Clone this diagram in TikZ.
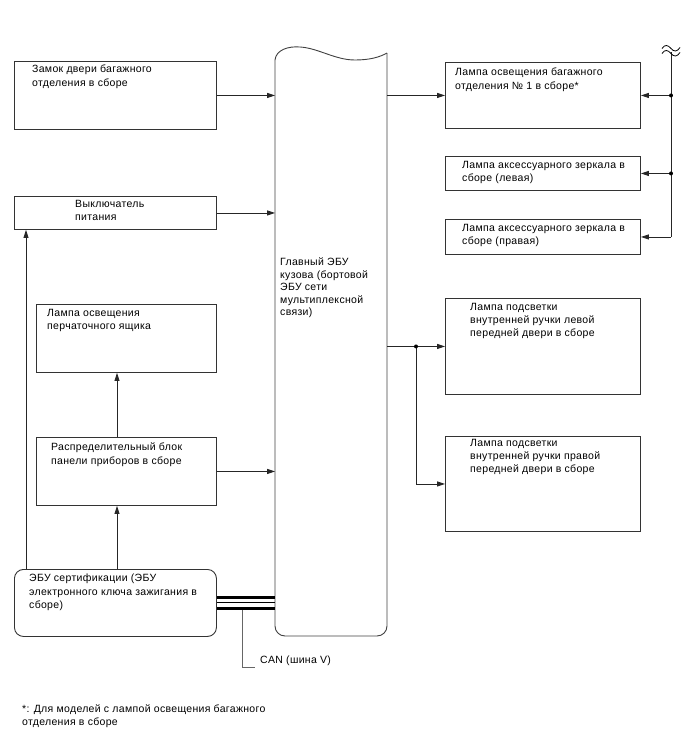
\documentclass[tikz,border=0pt]{standalone}
\usepackage{fontspec}
\setmainfont{Liberation Sans}[LetterSpace=3]
\usetikzlibrary{arrows.meta}
\tikzset{
  boxn/.style={draw=black!80, line width=0.9pt, inner sep=0pt, anchor=north west},
  txt/.style={anchor=north west, inner sep=0pt, align=left, font=\fontsize{10.5}{13.2}\selectfont},
  arr/.style={draw=black!85, line width=0.9pt, -{Triangle[length=8pt,width=5pt]}},
  ln/.style={draw=black!85, line width=0.9pt},
  dotn/.style={circle, fill=black, inner sep=0pt, minimum size=4pt},
}
\begin{document}
\begin{tikzpicture}[x=1pt,y=-1pt]
\useasboundingbox (0,0) rectangle (688,755);
% boxes
\node[boxn, minimum width=202, minimum height=68] (zamok) at (14,61) {};
\node[boxn, minimum width=202, minimum height=33] (vykl) at (14,196) {};
\node[boxn, minimum width=180, minimum height=68] (perch) at (36,304) {};
\node[boxn, minimum width=180, minimum height=68] (raspr) at (36,437) {};
\node[boxn, rounded corners=9pt, minimum width=202, minimum height=67] (cert) at (14,569) {};
\node[inner sep=0pt, anchor=north west, minimum width=112, minimum height=583] (ecu) at (275,53) {};
\node[boxn, minimum width=195, minimum height=66] (lamp1) at (445,62) {};
\node[boxn, minimum width=195, minimum height=34] (zerk1) at (445,156) {};
\node[boxn, minimum width=195, minimum height=35] (zerk2) at (445,219) {};
\node[boxn, minimum width=195, minimum height=96] (podsv1) at (445,298) {};
\node[boxn, minimum width=195, minimum height=95] (podsv2) at (445,436) {};
% ECU outline
\draw[draw=black!75, line width=0.9pt] (275,60) .. controls (276,50) and (288,46) .. (300,47)
  .. controls (318,48) and (335,60) .. (355,60) .. controls (370,60) and (380,57) .. (387,53);
\draw[draw=black!75, line width=0.9pt, rounded corners=10pt] (387,53) -- (387,636) -- (275,636) -- (275,60);
% texts
\node[txt] (tzamok) at (32,65) {Замок двери багажного\\отделения в сборе};
\node[txt] (tvykl) at (75,200) {Выключатель\\питания};
\node[txt] (tperch) at (47,309) {Лампа освещения\\перчаточного ящика};
\node[txt] (traspr) at (51,443) {Распределительный блок\\панели приборов в сборе};
\node[txt] (tcert) at (29,574) {ЭБУ сертификации (ЭБУ\\электронного ключа зажигания в\\сборе)};
\node[txt, font=\fontsize{10.5}{12.4}\selectfont] (tecu) at (280,258) {Главный ЭБУ\\кузова (бортовой\\ЭБУ сети\\мультиплексной\\связи)};
\node[txt] (tlamp1) at (455,68) {Лампа освещения багажного\\отделения № 1 в сборе*};
\node[txt] (tzerk1) at (462,161) {Лампа аксессуарного зеркала в\\сборе (левая)};
\node[txt] (tzerk2) at (462,224) {Лампа аксессуарного зеркала в\\сборе (правая)};
\node[txt] (tpodsv1) at (470,303) {Лампа подсветки\\внутренней ручки левой\\передней двери в сборе};
\node[txt] (tpodsv2) at (470,439) {Лампа подсветки\\внутренней ручки правой\\передней двери в сборе};
\node[txt] (tcan) at (260,656) {CAN (шина V)};
\node[txt] (tnote) at (22,704) {*: Для моделей с лампой освещения багажного\\отделения в сборе};
% helper coordinates
\coordinate (ax) at (117,0);
\coordinate (bx) at (26,0);
\coordinate (bustop) at (671,52);
\coordinate (j1) at (416,0);
% left connectors
\draw[arr] (zamok.east) -- (zamok.east -| ecu.west);
\draw[arr] (vykl.east) -- (vykl.east -| ecu.west);
\draw[arr] (raspr.east) -- (raspr.east -| ecu.west);
\draw[arr] (raspr.north -| ax) -- (perch.south -| ax);
\draw[arr] (cert.north -| ax) -- (raspr.south -| ax);
\draw[arr] (cert.north -| bx) -- (vykl.south -| bx);
% right connectors
\draw[arr] (ecu.east |- lamp1.west) -- (lamp1.west);
\draw[ln] (bustop) -- (bustop |- zerk2.east);
\draw[arr] (bustop |- zerk2.east) -- (zerk2.east);
\draw[arr] (bustop |- lamp1.east) -- (lamp1.east);
\draw[arr] (bustop |- zerk1.east) -- (zerk1.east);
\node[dotn] (d1) at (bustop |- lamp1.east) {};
\node[dotn] (d2) at (bustop |- zerk1.east) {};
\draw[arr] (ecu.east |- podsv1.west) -- (podsv1.west);
\draw[arr] (j1 |- podsv1.west) -- (j1 |- podsv2.west) -- (podsv2.west);
\node[dotn] (d3) at (j1 |- podsv1.west) {};
% wavy break symbol
\draw[line width=0.8pt] (662,48.5) .. controls (665,44) and (668,45) .. (671,48.5) .. controls (674,52) and (677,52) .. (680,47.5);
\draw[line width=0.8pt] (662,53.5) .. controls (665,49) and (668,50) .. (671,53.5) .. controls (674,57) and (677,57) .. (680,52.5);
% CAN bus
\draw[line width=2.7pt] (cert.east |- 0,597.3) -- (ecu.west |- 0,597.3);
\draw[line width=1.3pt] (cert.east |- 0,602.7) -- (ecu.west |- 0,602.7);
\draw[line width=2.7pt] (cert.east |- 0,608.7) -- (ecu.west |- 0,608.7);
\draw[draw=black!60, line width=0.9pt] (242,610) -- (242,667) -- (255,667);
\end{tikzpicture}
\end{document}
